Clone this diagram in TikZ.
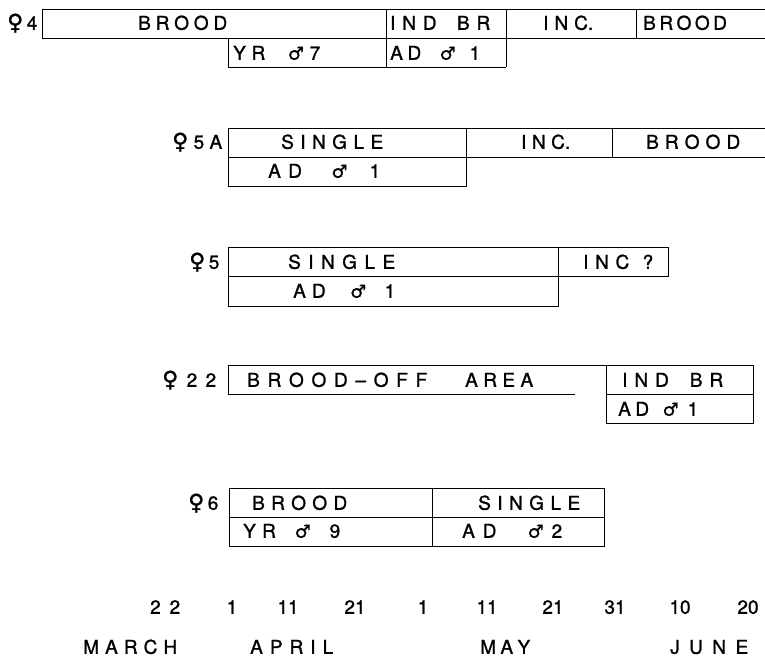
\documentclass[tikz,border=0pt]{standalone}
\usepackage{fontspec}
\setmainfont[FakeBold=1.2]{TeX Gyre Heros}
\newfontfamily\symfont[FakeBold=1.2]{DejaVu Sans}
\newcommand{\fem}{{\symfont\fontsize{22}{22}\selectfont ♀}}
\newcommand{\mal}{{\symfont\fontsize{18}{18}\selectfont ♂}}
\newcommand{\spread}[2]{\makebox[#1pt][s]{#2}}
\begin{document}
\begin{tikzpicture}[x=1pt,y=-1pt,
		rule/.style={line width=0.8pt},
		lbl/.style={inner sep=0pt, anchor=west, text height=13.5pt, text depth=0pt, font=\fontsize{19}{19}\selectfont},
		num/.style={inner sep=0pt, text height=13.5pt, text depth=0pt, font=\fontsize{19}{19}\selectfont}]
		\useasboundingbox (0,0) rectangle (765,659);
		
		% ♀4
		\draw[rule] (765,9) -- (42,9) -- (42,38) -- (765,38);
		\draw[rule] (386,9) -- (386,67) (506,9) -- (506,67) (636,9) -- (636,38);
		\draw[rule] (228,38) -- (228,67) -- (506,67);
		\node[lbl] (f4) at (7,23) {\spread{27}{\fem\ 4}};
		\node[lbl] (brood4) at (138,23) {\spread{89}{B R O O D}};
		\node[lbl] (indbr4) at (390,23) {\spread{100}{I N D\ \ \ B R}};
		\node[lbl] (inc4) at (543,23) {\spread{50}{I N C.}};
		\node[lbl] (broodb4) at (643,23) {\spread{82}{B R O O D}};
		\node[lbl] (yr4) at (233,53) {\spread{87}{Y R\ \ \ \ \mal\ 7}};
		\node[lbl] (ad4) at (390,53) {\spread{90}{A D\ \ \ \ \mal\ \ \ 1}};
		
		% ♀5A
		\draw[rule] (765,128) -- (228,128) -- (228,186) -- (466,186) -- (466,128);
		\draw[rule] (228,157) -- (765,157) (612,128) -- (612,157);
		\node[lbl] (f5a) at (172,142) {\spread{50}{\fem\ 5 A}};
		\node[lbl] (single5a) at (281,142) {\spread{102}{S I N G L E}};
		\node[lbl] (inc5a) at (521,142) {\spread{49}{I N C.}};
		\node[lbl] (brood5a) at (646,142) {\spread{94}{B R O O D}};
		\node[lbl] (ad5a) at (268,171) {\spread{112}{A D\ \ \ \ \mal\ \ \ 1}};
		
		% ♀5
		\draw[rule] (228,247) rectangle (558,306);
		\draw[rule] (228,276) -- (668,276) -- (668,247) -- (558,247);
		\node[lbl] (f5) at (189,262) {\spread{26}{\fem\ 5}};
		\node[lbl] (single5) at (288,262) {\spread{107}{S I N G L E}};
		\node[lbl] (inc5) at (583,262) {\spread{70}{I N C\ \ ?}};
		\node[lbl] (ad5) at (293,291) {\spread{102}{A D\ \ \ \ \mal\ \ \ 1}};
		
		% ♀22
		\draw[rule] (575,394) -- (228,394) -- (228,365) -- (753,365) -- (753,423) -- (606,423) -- (606,365);
		\draw[rule] (606,394) -- (753,394);
		\node[lbl] (f22) at (162,380) {\spread{54}{\fem\ 2 2}};
		\node[lbl] (brood22) at (247,380) {\spread{180}{B R O O D -- O F F}\hspace{38pt}\spread{68}{A R E A}};
		\node[lbl] (indbr22) at (622,380) {\spread{101}{I N D\ \ \ B R}};
		\node[lbl] (ad22) at (618,409) {\spread{80}{A D\ \ \ \mal\ \ 1}};
		
		% ♀6
		\draw[rule] (229,488) rectangle (604,546);
		\draw[rule] (229,517) -- (604,517) (432,488) -- (432,546);
		\node[lbl] (f6) at (188,503) {\spread{30}{\fem\ 6}};
		\node[lbl] (brood6) at (252,503) {\spread{95}{B R O O D}};
		\node[lbl] (yr6) at (243,531) {\spread{97}{Y R\ \ \ \mal\ \ \ 9}};
		\node[lbl] (single6) at (478,503) {\spread{102}{S I N G L E}};
		\node[lbl] (ad6) at (462,531) {\spread{100}{A D\ \ \ \ \mal\ 2}};
		
		% 日期
		\node[lbl] (d22) at (150,607) {\spread{30}{2 2}};
		\foreach \x/\d [count=\i] in {232/1,288/11,355/21,423/1,487/11,553/21,615/31,680/10,748/20}
			\node[num] (d\i) at (\x,607) {\d};
		
		% 月份
		\node[lbl] (march) at (83,647) {\spread{94}{M A R C H}};
		\node[lbl] (april) at (250,647) {\spread{83}{A P R I L}};
		\node[lbl] (may) at (480,647) {\spread{50}{M A Y}};
		\node[lbl] (june) at (670,647) {\spread{78}{J U N E}};
	\end{tikzpicture}
\end{document}
